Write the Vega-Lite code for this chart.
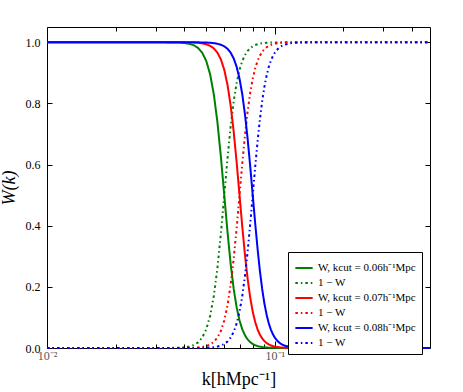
{
"$schema": "https://vega.github.io/schema/vega-lite/v6.json",
"width": 383, "height": 321,
"autosize": "none",
"padding": {"left": 47, "top": 27, "right": 33, "bottom": 44},
"background": "white",
"data": {"values": [
{"k":0.01,"W06":1,"C06":0,"W07":1,"C07":0,"W08":1,"C08":0},
{"k":0.02,"W06":1,"C06":0,"W07":1,"C07":0,"W08":1,"C08":0},
{"k":0.03,"W06":1,"C06":0,"W07":1,"C07":0,"W08":1,"C08":0},
{"k":0.036,"W06":0.9995,"C06":0.0005,"W07":1,"C07":0,"W08":1,"C08":0},
{"k":0.038,"W06":0.9989,"C06":0.0011,"W07":0.9999,"C07":0.0001,"W08":1,"C08":0},
{"k":0.040,"W06":0.9977,"C06":0.0023,"W07":0.9998,"C07":0.0002,"W08":1,"C08":0},
{"k":0.042,"W06":0.9953,"C06":0.0047,"W07":0.9995,"C07":0.0005,"W08":0.9999,"C08":0.0001},
{"k":0.044,"W06":0.9906,"C06":0.0094,"W07":0.9991,"C07":0.0009,"W08":0.9999,"C08":0.0001},
{"k":0.046,"W06":0.9818,"C06":0.0182,"W07":0.9982,"C07":0.0018,"W08":0.9998,"C08":0.0002},
{"k":0.048,"W06":0.9660,"C06":0.0340,"W07":0.9965,"C07":0.0035,"W08":0.9995,"C08":0.0005},
{"k":0.050,"W06":0.9391,"C06":0.0609,"W07":0.9936,"C07":0.0064,"W08":0.9991,"C08":0.0009},
{"k":0.052,"W06":0.8954,"C06":0.1046,"W07":0.9886,"C07":0.0114,"W08":0.9984,"C08":0.0016},
{"k":0.054,"W06":0.8293,"C06":0.1707,"W07":0.9800,"C07":0.0200,"W08":0.9972,"C08":0.0028},
{"k":0.056,"W06":0.7379,"C06":0.2621,"W07":0.9660,"C07":0.0340,"W08":0.9953,"C08":0.0047},
{"k":0.058,"W06":0.6245,"C06":0.3755,"W07":0.9438,"C07":0.0562,"W08":0.9920,"C08":0.0080},
{"k":0.060,"W06":0.5,"C06":0.5,"W07":0.9099,"C07":0.0901,"W08":0.9868,"C08":0.0132},
{"k":0.062,"W06":0.3795,"C06":0.6205,"W07":0.8606,"C07":0.1394,"W08":0.9786,"C08":0.0214},
{"k":0.064,"W06":0.2753,"C06":0.7247,"W07":0.7932,"C07":0.2068,"W08":0.9660,"C08":0.0340},
{"k":0.066,"W06":0.1932,"C06":0.8068,"W07":0.7074,"C07":0.2926,"W08":0.9471,"C08":0.0529},
{"k":0.068,"W06":0.1327,"C06":0.8673,"W07":0.6071,"C07":0.3929,"W08":0.9197,"C08":0.0803},
{"k":0.070,"W06":0.0901,"C06":0.9099,"W07":0.5,"C07":0.5,"W08":0.8811,"C08":0.1189},
{"k":0.072,"W06":0.0610,"C06":0.9390,"W07":0.3959,"C07":0.6041,"W08":0.8293,"C08":0.1707},
{"k":0.074,"W06":0.0413,"C06":0.9587,"W07":0.3029,"C07":0.6971,"W08":0.7630,"C08":0.2370},
{"k":0.076,"W06":0.0280,"C06":0.9720,"W07":0.2256,"C07":0.7744,"W08":0.6834,"C08":0.3166},
{"k":0.078,"W06":0.0192,"C06":0.9808,"W07":0.1648,"C07":0.8352,"W08":0.5938,"C08":0.4062},
{"k":0.080,"W06":0.0132,"C06":0.9868,"W07":0.1189,"C07":0.8811,"W08":0.5,"C08":0.5},
{"k":0.082,"W06":0.0091,"C06":0.9909,"W07":0.0852,"C07":0.9148,"W08":0.4085,"C08":0.5915},
{"k":0.084,"W06":0.0064,"C06":0.9936,"W07":0.0610,"C07":0.9390,"W08":0.3248,"C08":0.6752},
{"k":0.086,"W06":0.0045,"C06":0.9955,"W07":0.0436,"C07":0.9564,"W08":0.2526,"C08":0.7474},
{"k":0.088,"W06":0.0032,"C06":0.9968,"W07":0.0313,"C07":0.9687,"W08":0.1932,"C08":0.8068},
{"k":0.090,"W06":0.0023,"C06":0.9977,"W07":0.0225,"C07":0.9775,"W08":0.1460,"C08":0.8540},
{"k":0.092,"W06":0.0016,"C06":0.9984,"W07":0.0163,"C07":0.9837,"W08":0.1095,"C08":0.8905},
{"k":0.094,"W06":0.0012,"C06":0.9988,"W07":0.0119,"C07":0.9881,"W08":0.0817,"C08":0.9183},
{"k":0.096,"W06":0.0009,"C06":0.9991,"W07":0.0087,"C07":0.9913,"W08":0.0610,"C08":0.9390},
{"k":0.098,"W06":0.0006,"C06":0.9994,"W07":0.0064,"C07":0.9936,"W08":0.0455,"C08":0.9545},
{"k":0.100,"W06":0.0005,"C06":0.9995,"W07":0.0047,"C07":0.9953,"W08":0.0340,"C08":0.9660},
{"k":0.102,"W06":0.0004,"C06":0.9996,"W07":0.0035,"C07":0.9965,"W08":0.0255,"C08":0.9745},
{"k":0.104,"W06":0.0003,"C06":0.9997,"W07":0.0026,"C07":0.9974,"W08":0.0192,"C08":0.9808},
{"k":0.106,"W06":0.0002,"C06":0.9998,"W07":0.0020,"C07":0.9980,"W08":0.0145,"C08":0.9855},
{"k":0.108,"W06":0.0002,"C06":0.9998,"W07":0.0015,"C07":0.9985,"W08":0.0110,"C08":0.9890},
{"k":0.110,"W06":0.0001,"C06":0.9999,"W07":0.0011,"C07":0.9989,"W08":0.0084,"C08":0.9916},
{"k":0.115,"W06":0.0001,"C06":0.9999,"W07":0.0006,"C07":0.9994,"W08":0.0043,"C08":0.9957},
{"k":0.120,"W06":0,"C06":1,"W07":0.0003,"C07":0.9997,"W08":0.0023,"C08":0.9977},
{"k":0.130,"W06":0,"C06":1,"W07":0.0001,"C07":0.9999,"W08":0.0007,"C08":0.9993},
{"k":0.140,"W06":0,"C06":1,"W07":0,"C07":1,"W08":0.0002,"C08":0.9998},
{"k":0.200,"W06":0,"C06":1,"W07":0,"C07":1,"W08":0,"C08":1},
{"k":0.480,"W06":0,"C06":1,"W07":0,"C07":1,"W08":0,"C08":1}
]},
"transform": [{"fold": ["W06","C06","W07","C07","W08","C08"], "as": ["series","W"]}],
"layer": [
{
"mark": {"type": "line", "strokeWidth": 2},
"encoding": {
"x": {"field": "k", "type": "quantitative",
 "scale": {"type": "log", "domain": [0.01, 0.48], "nice": false},
 "axis": {"orient": "bottom", "values": [0.01,0.02,0.03,0.04,0.05,0.06,0.07,0.08,0.09,0.1,0.2,0.3,0.4],
  "labelExpr": "datum.value == 0.01 ? '10⁻²' : (datum.value == 0.1 ? '10⁻¹' : '')",
  "tickSize": {"condition": {"test": "datum.value == 0.01 || datum.value == 0.1", "value": -7}, "value": -4},
  "labelPadding": 9, "labelFlush": false, "labelOverlap": false, "labelColor": "#555", "labelFontSize": 12,
  "title": "k[hMpc⁻¹]", "titleFontSize": 18, "titlePadding": 6}},
"y": {"field": "W", "type": "quantitative",
 "scale": {"domain": [0, 1.05], "nice": false, "zero": false},
 "axis": {"orient": "left", "values": [0,0.2,0.4,0.6,0.8,1.0], "format": ".1f", "tickSize": -5,
  "labelPadding": 12, "labelFontSize": 12, "title": "W(k)", "titleFontSize": 18, "titleFontStyle": "italic", "titlePadding": 7}},
"color": {"field": "series", "type": "nominal",
 "scale": {"domain": ["W06","C06","W07","C07","W08","C08"], "range": ["#008000","#008000","#ff0000","#ff0000","#0000ff","#0000ff"]},
 "legend": {"orient": "none", "legendX": 241, "legendY": 225, "title": null,
  "labelExpr": "substring(datum.value,0,1) == 'W' ? 'W, kcut = 0.0' + substring(datum.value,2,3) + 'h⁻¹Mpc' : '1 − W'",
  "symbolType": "stroke", "symbolSize": 300, "symbolStrokeWidth": 2, "strokeColor": "black", "fillColor": "white",
  "padding": 6, "rowPadding": 0, "labelFont": "Liberation Serif", "labelFontSize": 11, "labelLimit": 300}},
"strokeDash": {"field": "series", "type": "nominal",
 "scale": {"domain": ["W06","C06","W07","C07","W08","C08"], "range": [[1,0],[2.5,3,1.5,3],[1,0],[2.5,3,1.5,3],[1,0],[2.5,3,1.5,3]]},
 "legend": {"orient": "none", "legendX": 241, "legendY": 225, "title": null,
  "labelExpr": "substring(datum.value,0,1) == 'W' ? 'W, kcut = 0.0' + substring(datum.value,2,3) + 'h⁻¹Mpc' : '1 − W'",
  "symbolType": "stroke", "symbolSize": 300, "symbolStrokeWidth": 2, "strokeColor": "black", "fillColor": "white",
  "padding": 6, "rowPadding": 0, "labelFont": "Liberation Serif", "labelFontSize": 11, "labelLimit": 300}}
}
},
{
"mark": {"type": "point", "opacity": 0, "size": 0},
"encoding": {
"x": {"field": "k", "type": "quantitative",
 "scale": {"type": "log", "domain": [0.01, 0.48], "nice": false},
 "axis": {"orient": "top", "values": [0.01,0.02,0.03,0.04,0.05,0.06,0.07,0.08,0.09,0.1,0.2,0.3,0.4],
  "labels": false, "title": null,
  "tickSize": {"condition": {"test": "datum.value == 0.01 || datum.value == 0.1", "value": -7}, "value": -4}}},
"y": {"field": "W", "type": "quantitative",
 "scale": {"domain": [0, 1.05], "nice": false, "zero": false},
 "axis": {"orient": "right", "values": [0,0.2,0.4,0.6,0.8,1.0], "labels": false, "title": null, "tickSize": -5}}
}
}
],
"resolve": {"axis": {"x": "independent", "y": "independent"}},
"config": {
"view": {"stroke": null},
"axis": {"domainColor": "black", "domainWidth": 1, "tickColor": "black", "tickWidth": 1, "grid": false,
 "labelFont": "Liberation Serif", "titleFont": "Liberation Serif", "labelColor": "black", "titleColor": "black", "titleFontWeight": "normal"},
"legend": {"labelColor": "black"}
}
}
